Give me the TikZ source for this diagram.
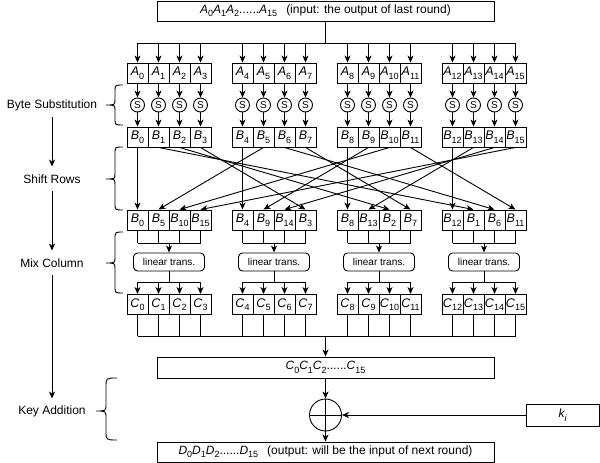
\documentclass[tikz,border=0pt]{standalone}
\usepackage{fontspec}
\setmainfont{Liberation Sans}
\usetikzlibrary{arrows.meta,calc}
\newcommand{\itsub}[2]{{\itshape #1}\raisebox{-0.28em}{\fontsize{9}{10}\selectfont #2}}
\begin{document}
\begin{tikzpicture}[x=1pt,y=-1pt, line width=0.9pt,
  font=\fontsize{12}{14}\selectfont,
  arr/.style={-{Stealth[length=7pt,width=6pt,inset=2pt]}},
  cell/.style={draw, minimum width=21pt, minimum height=20pt, inner sep=0pt, font=\fontsize{12.5}{14}\selectfont},
  sbox/.style={draw, circle, minimum size=14pt, inner sep=0pt, font=\fontsize{10}{12}\selectfont},
  lt/.style={draw, rounded corners=4pt, minimum width=71pt, minimum height=18pt, inner sep=0pt, font=\fontsize{10}{12}\selectfont},
  wide/.style={draw, minimum width=337pt, minimum height=21pt, inner sep=0pt},
  lbl/.style={minimum height=24pt, inner sep=0pt},
  bracestyle/.style={line width=0.9pt},
]
\useasboundingbox (0,0) rectangle (600,463);

% top input box
\node[wide, minimum height=20pt] (top) at (325.5,11) {\itsub{A}{0}\itsub{A}{1}\itsub{A}{2}......\itsub{A}{15}\hspace{9pt}(input: the output of last round)};
\coordinate (tb) at (325.5,43);

% rows of cells
\foreach \i in {0,...,15}{
  \pgfmathsetmacro\xx{137.5+105*int(\i/4)+21*mod(\i,4)}
  \node[cell] (a\i) at (\xx,73) {\itsub{A}{\i}};
  \node[sbox] (s\i) at (\xx,105) {S};
  \node[cell] (b\i) at (\xx,137) {\itsub{B}{\i}};
  \node[cell] (c\i) at (\xx,304.5) {\itsub{C}{\i}};
  \draw[arr] (a\i |- tb) -- (a\i.north);
  \draw[arr] (a\i.south) -- (s\i.north);
  \draw[arr] (s\i.south) -- (b\i.north);
}
\draw (top.south) -- (tb);
\draw (a0 |- tb) -- (a15 |- tb);

% shifted row
\foreach \lab [count=\p from 0] in {0,5,10,15,4,9,14,3,8,13,2,7,12,1,6,11}{
  \pgfmathsetmacro\xx{137.5+105*int(\p/4)+21*mod(\p,4)}
  \node[cell] (bb\p) at (\xx,220) {\itsub{B}{\lab}};
}
\foreach \lab [count=\p from 0] in {0,5,10,15,4,9,14,3,8,13,2,7,12,1,6,11}{
  \draw[arr] (b\lab.south) -- (bb\p.north);
}

% mix columns
\foreach \g in {0,...,3}{
  \pgfmathsetmacro\xc{169+105*\g}
  \pgfmathtruncatemacro\first{4*\g}
  \pgfmathtruncatemacro\last{4*\g+3}
  \node[lt] (lt\g) at (\xc,262) {linear trans.};
  \coordinate (mt\g) at (\xc,243);
  \coordinate (mb\g) at (\xc,282);
  \foreach \k in {0,...,3}{
    \pgfmathtruncatemacro\p{4*\g+\k}
    \draw (bb\p.south) -- (bb\p |- mt\g);
    \draw[arr] (c\p |- mb\g) -- (c\p.north);
  }
  \draw (bb\first |- mt\g) -- (bb\last |- mt\g);
  \draw[arr] (mt\g) -- (lt\g.north);
  \draw (lt\g.south) -- (mb\g);
  \draw (c\first |- mb\g) -- (c\last |- mb\g);
}

% collect C
\coordinate (cb) at (325.5,336);
\foreach \i in {0,...,15}{ \draw (c\i.south) -- (c\i |- cb); }
\draw (c0 |- cb) -- (c15 |- cb);
\node[wide] (cbox) at (325.5,367.5) {\itsub{C}{0}\itsub{C}{1}\itsub{C}{2}......\itsub{C}{15}};
\draw[arr] (cb) -- (cbox.north);

% key addition
\node[draw, circle, minimum size=32pt, inner sep=0pt] (xr) at (325.5,415) {};
\draw (xr.north) -- (xr.south);
\draw (xr.west) -- (xr.east);
\node[draw, minimum width=73pt, minimum height=22pt, inner sep=0pt] (kbox) at (562.5,415) {\itsub{k}{\itshape i}};
\node[wide, minimum height=20pt] (dbox) at (325.5,452) {\itsub{D}{0}\itsub{D}{1}\itsub{D}{2}......\itsub{D}{15}\hspace{9pt}(output: will be the input of next round)};
\draw[arr] (cbox.south) -- (xr.north);
\draw[arr] (xr.south) -- (dbox.north);
\draw[arr] (kbox.west) -- (xr.east);

% left labels
\node[lbl] (bs) at (52,105) {Byte Substitution};
\node[lbl] (sr) at (52,179) {Shift Rows};
\node[lbl] (mc) at (52,263) {Mix Column};
\node[lbl] (ka) at (52,411) {Key Addition};
\draw[arr] (bs.south) -- (sr.north);
\draw[arr] (sr.south) -- (mc.north);
\draw[arr] (mc.south) -- (ka.north);

% braces
\draw[bracestyle] (123,85) .. controls (115,85) .. (115,92) -- (115,99) .. controls (115,105) .. (106,105) .. controls (115,105) .. (115,111) -- (115,118) .. controls (115,125) .. (123,125);
\draw[bracestyle] (123,147) .. controls (115,147) .. (115,154) -- (115,173) .. controls (115,179) .. (106,179) .. controls (115,179) .. (115,185) -- (115,203) .. controls (115,210) .. (123,210);
\draw[bracestyle] (123,232) .. controls (115,232) .. (115,239) -- (115,257) .. controls (115,263) .. (106,263) .. controls (115,263) .. (115,269) -- (115,286) .. controls (115,293) .. (123,293);
\draw[bracestyle] (117,378) .. controls (106,378) .. (106,387) -- (106,404) .. controls (106,411) .. (96,411) .. controls (106,411) .. (106,418) -- (106,431) .. controls (106,440) .. (117,440);
\end{tikzpicture}
\end{document}
